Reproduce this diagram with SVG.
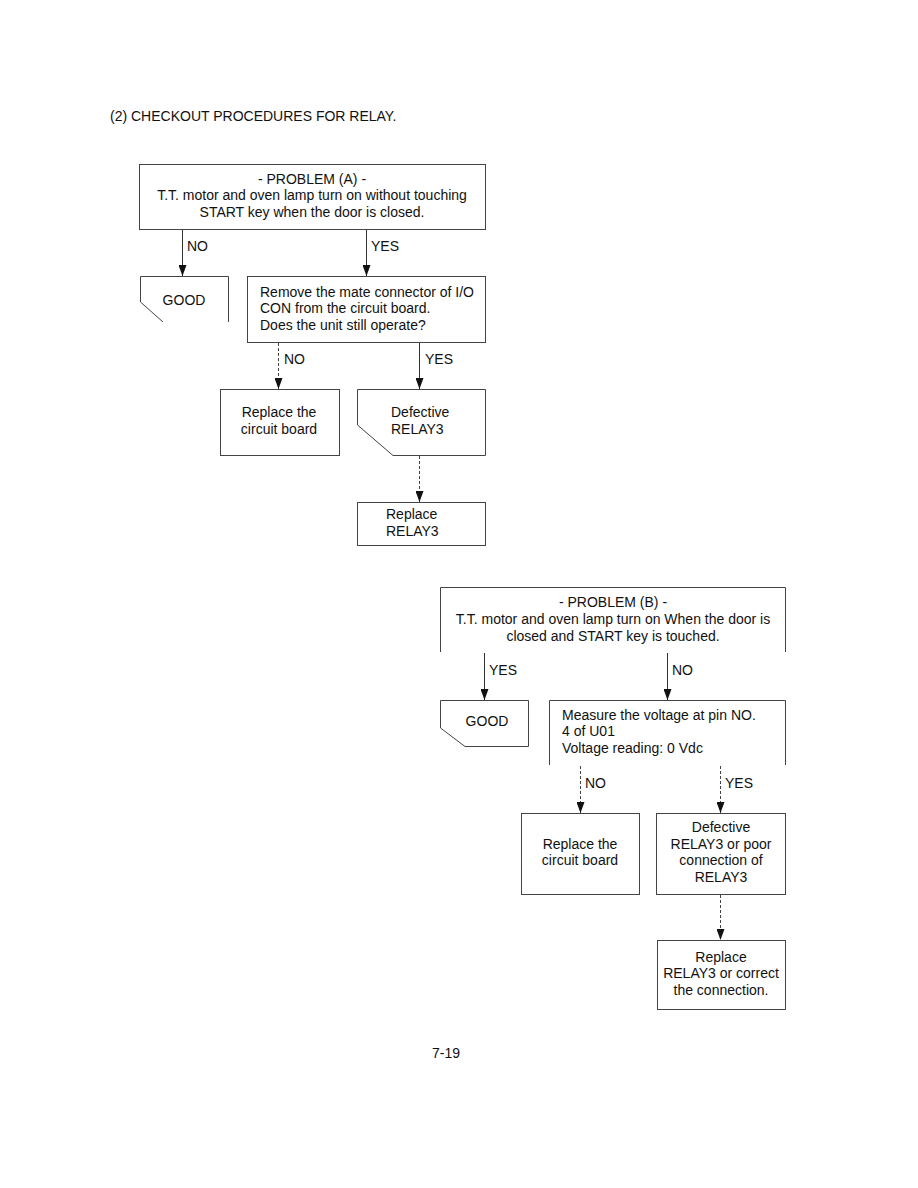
<svg xmlns="http://www.w3.org/2000/svg" width="918" height="1188" viewBox="0 0 918 1188">
<style>
text{font-family:"Liberation Sans",Arial,sans-serif;font-size:14px;fill:#111}
.c{text-anchor:middle}
.b{fill:none;stroke:#444;stroke-width:1}
.l{stroke:#333;stroke-width:1;fill:none}
.d{stroke:#444;stroke-width:1;stroke-dasharray:3,2;fill:none}
</style>
<defs>
<marker id="ah" viewBox="0 0 11 8" refX="11" refY="4" markerWidth="11" markerHeight="8" markerUnits="userSpaceOnUse" orient="auto">
<path d="M0,0 L11,4 L0,8 Z" fill="#111"/>
</marker>
</defs>
<rect width="918" height="1188" fill="#fff"/>
<text x="110" y="121">(2) CHECKOUT PROCEDURES FOR RELAY.</text>

<g id="probA">
<rect class="b" x="139.5" y="164.5" width="346" height="65"/>
<text class="c" x="312" y="184">- PROBLEM (A) -</text>
<text class="c" x="312" y="200">T.T. motor and oven lamp turn on without touching</text>
<text class="c" x="312" y="217">START key when the door is closed.</text>
</g>
<g id="goodA">
<path class="b" d="M140.5,302 V276.5 H228.5 V322 M140.5,302 L163,322"/>
<text class="c" x="184" y="305">GOOD</text>
</g>
<g id="removeIO">
<rect class="b" x="247.5" y="276.5" width="238" height="66"/>
<text x="260" y="297">Remove the mate connector of I/O</text>
<text x="260" y="313">CON from the circuit board.</text>
<text x="260" y="330">Does the unit still operate?</text>
</g>
<g id="replaceBoardA">
<rect class="b" x="220.5" y="389.5" width="119" height="66"/>
<text class="c" x="279" y="417">Replace the</text>
<text class="c" x="279" y="434">circuit board</text>
</g>
<g id="defectiveA">
<path class="b" d="M357.5,425 V389.5 H485.5 V455.5 H393 Z"/>
<text x="391" y="417">Defective</text>
<text x="391" y="434">RELAY3</text>
</g>
<g id="replaceRelayA">
<rect class="b" x="357.5" y="502.5" width="128" height="43"/>
<text x="386" y="519">Replace</text>
<text x="386" y="536">RELAY3</text>
</g>

<g id="probB">
<path class="b" d="M440.5,652 V587.5 H785.5 V652"/>
<text class="c" x="613" y="607">- PROBLEM (B) -</text>
<text class="c" x="613" y="624">T.T. motor and oven lamp turn on When the door is</text>
<text class="c" x="613" y="641">closed and START key is touched.</text>
</g>
<g id="goodB">
<path class="b" d="M440.5,728 V700.5 H528.5 V746.5 H465 Z"/>
<text class="c" x="487" y="726">GOOD</text>
</g>
<g id="measure">
<path class="b" d="M549.5,765 V700.5 H785.5 V765"/>
<text x="562" y="720">Measure the voltage at pin NO.</text>
<text x="562" y="736">4 of U01</text>
<text x="562" y="753">Voltage reading: 0 Vdc</text>
</g>
<g id="replaceBoardB">
<rect class="b" x="521.5" y="813.5" width="118" height="81"/>
<text class="c" x="580" y="849">Replace the</text>
<text class="c" x="580" y="865">circuit board</text>
</g>
<g id="defectiveB">
<rect class="b" x="656.5" y="813.5" width="129" height="81"/>
<text class="c" x="721" y="832">Defective</text>
<text class="c" x="721" y="849">RELAY3 or poor</text>
<text class="c" x="721" y="865">connection of</text>
<text class="c" x="721" y="882">RELAY3</text>
</g>
<g id="replaceRelayB">
<rect class="b" x="657.5" y="940.5" width="128" height="69"/>
<text class="c" x="721" y="962">Replace</text>
<text class="c" x="721" y="978">RELAY3 or correct</text>
<text class="c" x="721" y="995">the connection.</text>
</g>

<g id="connectors">
<line class="l" x1="182.5" y1="230" x2="182.5" y2="276" marker-end="url(#ah)"/>
<line class="l" x1="366.5" y1="230" x2="366.5" y2="276" marker-end="url(#ah)"/>
<line class="d" x1="278.5" y1="343" x2="278.5" y2="389" marker-end="url(#ah)"/>
<line class="l" x1="419.5" y1="343" x2="419.5" y2="389" marker-end="url(#ah)"/>
<line class="d" x1="419.5" y1="456" x2="419.5" y2="502" marker-end="url(#ah)"/>
<line class="l" x1="484.5" y1="653" x2="484.5" y2="700" marker-end="url(#ah)"/>
<line class="l" x1="667.5" y1="653" x2="667.5" y2="700" marker-end="url(#ah)"/>
<line class="d" x1="580.5" y1="766" x2="580.5" y2="813" marker-end="url(#ah)"/>
<line class="d" x1="720.5" y1="766" x2="720.5" y2="813" marker-end="url(#ah)"/>
<line class="d" x1="720.5" y1="895" x2="720.5" y2="940" marker-end="url(#ah)"/>
<text x="187" y="251">NO</text>
<text x="371" y="251">YES</text>
<text x="284" y="364">NO</text>
<text x="425" y="364">YES</text>
<text x="489" y="675">YES</text>
<text x="672" y="675">NO</text>
<text x="585" y="788">NO</text>
<text x="725" y="788">YES</text>
</g>
<text class="c" x="446" y="1058">7-19</text>
</svg>
